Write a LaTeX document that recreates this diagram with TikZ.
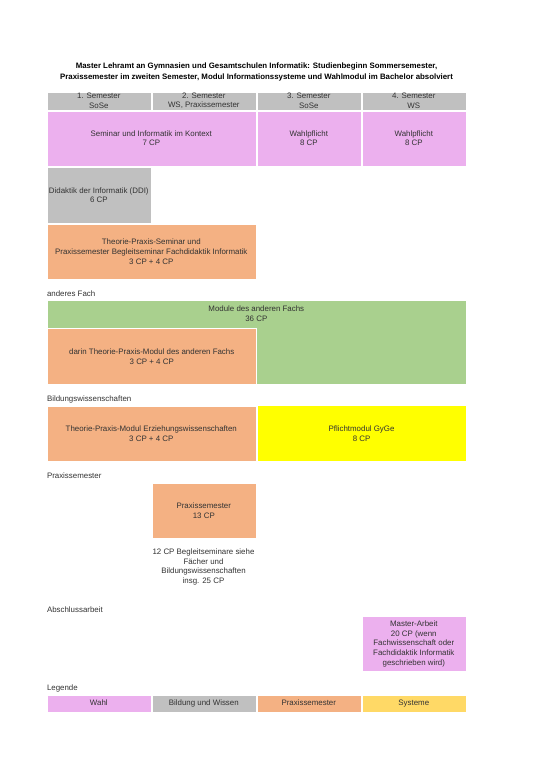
\documentclass[tikz,border=0pt]{standalone}
\usepackage{fontspec}
\setmainfont{Liberation Sans}
\definecolor{cwahl}{HTML}{ECB0EE}
\definecolor{cgray}{HTML}{C0C0C0}
\definecolor{corange}{HTML}{F4B183}
\definecolor{cgreen}{HTML}{A9D08E}
\definecolor{cyellow}{HTML}{FFFF00}
\definecolor{csys}{HTML}{FFD966}
\definecolor{ctext}{HTML}{333333}
\begin{document}
\begin{tikzpicture}[x=1pt,y=-1pt,
  txt/.style={font=\fontsize{7.9}{9.7}\selectfont, text=ctext, align=center, inner sep=0pt},
  box/.style={txt, anchor=north west, draw=white, line width=0.6pt},
  one/.style={text height=5.8pt, text depth=1.7pt},
  lbl/.style={font=\fontsize{7.9}{9.7}\selectfont, text=ctext, anchor=west, inner sep=0pt, text height=5.8pt, text depth=1.7pt},
  ttl/.style={font=\fontsize{7.85}{10.3}\selectfont\bfseries, text=black, align=center, inner sep=0pt}]
\useasboundingbox[fill=white] (0,0) rectangle (541,766);
% title
\node[ttl] (title) at (256.5,72) {Master Lehramt an Gymnasien und Gesamtschulen Informatik: Studienbeginn Sommersemester,\\Praxissemester im zweiten Semester, Modul Informationssysteme und Wahlmodul im Bachelor absolviert};
% header
\node[box, fill=cgray, minimum width=104pt, minimum height=18pt] (h1) at (46.5,91.5) {1. Semester\\SoSe};
\node[box, fill=cgray, minimum width=104pt, minimum height=18pt] (h2) at (151.5,91.5) {2. Semester\\WS, Praxissemester};
\node[box, fill=cgray, minimum width=104pt, minimum height=18pt] (h3) at (256.5,91.5) {3. Semester\\SoSe};
\node[box, fill=cgray, minimum width=104pt, minimum height=18pt] (h4) at (361.5,91.5) {4. Semester\\WS};
% pink row
\node[box, fill=cwahl, minimum width=209pt, minimum height=55pt] (sik) at (46.5,110.5) {Seminar und Informatik im Kontext\\7 CP};
\node[box, fill=cwahl, minimum width=104pt, minimum height=55pt] (wp1) at (256.5,110.5) {Wahlpflicht\\8 CP};
\node[box, fill=cwahl, minimum width=104pt, minimum height=55pt] (wp2) at (361.5,110.5) {Wahlpflicht\\8 CP};
% DDI
\node[box, fill=cgray, minimum width=104pt, minimum height=55.5pt] (ddi) at (46.5,167) {Didaktik der Informatik (DDI)\\6 CP};
% TPS
\node[box, fill=corange, minimum width=209pt, minimum height=55pt] (tps) at (46.5,224) {Theorie-Praxis-Seminar und\\Praxissemester Begleitseminar Fachdidaktik Informatik\\3 CP + 4 CP};
% anderes Fach
\node[lbl] (laf) at (46.8,294.7) {anderes Fach};
\node[box, fill=cgreen, minimum width=419.5pt, minimum height=84.5pt] (green) at (46.5,299.7) {};
\node[txt] (greent) at (256.3,313.5) {Module des anderen Fachs\\36 CP};
\node[box, fill=corange, minimum width=209.5pt, minimum height=56pt, line width=1pt] (darin) at (46.5,328) {darin Theorie-Praxis-Modul des anderen Fachs\\3 CP + 4 CP};
% Bildungswissenschaften
\node[lbl] (lbw) at (46.8,399) {Bildungswissenschaften};
\node[box, fill=corange, minimum width=209pt, minimum height=55.5pt] (tpm) at (46.5,405.5) {Theorie-Praxis-Modul Erziehungswissenschaften\\3 CP + 4 CP};
\node[box, fill=cyellow, minimum width=209.5pt, minimum height=56pt] (gyge) at (256.5,405.2) {Pflichtmodul GyGe\\8 CP};
% Praxissemester
\node[lbl] (lps) at (46.8,476) {Praxissemester};
\node[box, fill=corange, minimum width=104pt, minimum height=55.5pt] (ps) at (151.5,482.5) {Praxissemester\\13 CP};
\node[txt] (pstxt) at (203.5,567) {12 CP Begleitseminare siehe\\Fächer und\\Bildungswissenschaften\\insg. 25 CP};
% Abschlussarbeit
\node[lbl] (lab) at (46.8,610) {Abschlussarbeit};
\node[box, fill=cwahl, minimum width=104pt, minimum height=55.5pt] (ma) at (361.5,615.8) {Master-Arbeit\\20 CP (wenn\\Fachwissenschaft oder\\Fachdidaktik Informatik\\geschrieben wird)};
% Legende
\node[lbl] (lleg) at (46.8,688.3) {Legende};
\node[box, one, fill=cwahl, minimum width=104pt, minimum height=17.5pt] (g1) at (46.5,694.8) {Wahl};
\node[box, one, fill=cgray, minimum width=104pt, minimum height=17.5pt] (g2) at (151.5,694.8) {Bildung und Wissen};
\node[box, one, fill=corange, minimum width=104pt, minimum height=17.5pt] (g3) at (256.5,694.8) {Praxissemester};
\node[box, one, fill=csys, minimum width=104pt, minimum height=17.5pt] (g4) at (361.5,694.8) {Systeme};
\end{tikzpicture}
\end{document}
